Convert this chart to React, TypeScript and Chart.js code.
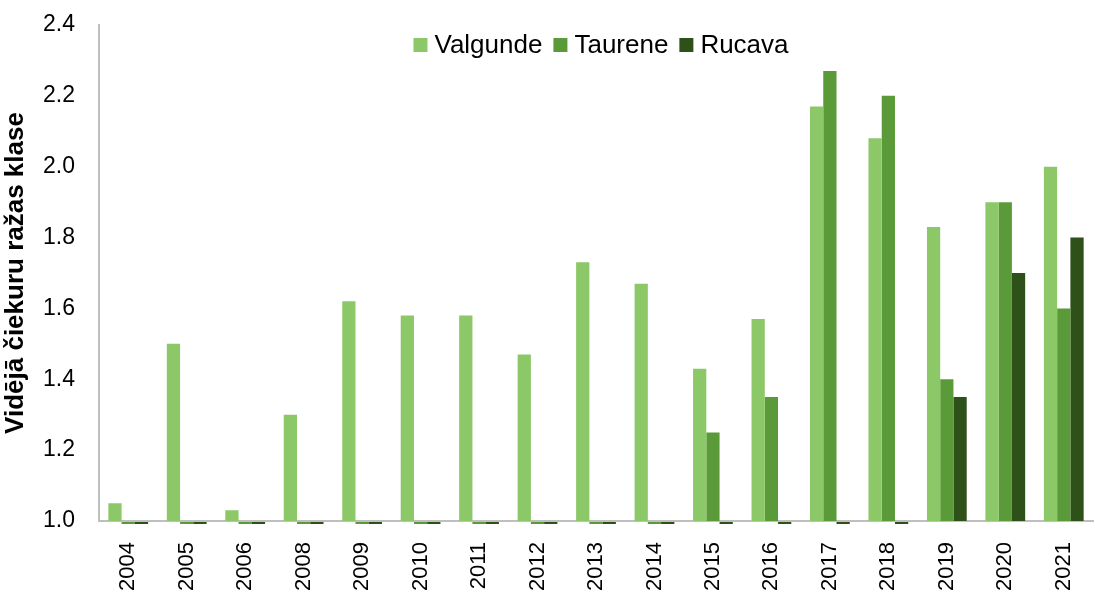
import React, { useEffect, useRef } from "react";
import { Chart, registerables } from "chart.js";

Chart.register(...registerables);

const years = ["2004", "2005", "2006", "2008", "2009", "2010", "2011", "2012", "2013", "2014", "2015", "2016", "2017", "2018", "2019", "2020", "2021"];
const valgunde = [1.05, 1.5, 1.03, 1.3, 1.62, 1.58, 1.58, 1.47, 1.73, 1.67, 1.43, 1.57, 2.17, 2.08, 1.83, 1.9, 2.0];
const taurene = [0, 0, 0, 0, 0, 0, 0, 0, 0, 0, 1.25, 1.35, 2.27, 2.2, 1.4, 1.9, 1.6];
const rucava = [0, 0, 0, 0, 0, 0, 0, 0, 0, 0, 0, 0, 0, 0, 1.35, 1.7, 1.8];
const seriesNames = ["Valgunde", "Taurene", "Rucava"];
const seriesColors = ["#8CC868", "#5B9A38", "#2D5119"];

const FONT = "'Liberation Sans', Arial, sans-serif";

const legendPlugin = {
  id: "customLegend",
  afterDraw(chart: any) {
    const ctx = chart.ctx;
    ctx.save();
    ctx.font = `26px ${FONT}`;
    ctx.textBaseline = "middle";
    const box = 14;
    const gapBoxText = 7;
    const gapItem = 11;
    const widths = seriesNames.map((n) => box + gapBoxText + ctx.measureText(n).width);
    const total = widths.reduce((a, b) => a + b, 0) + gapItem * (seriesNames.length - 1);
    let x = 601 - total / 2;
    const cy = 45;
    seriesNames.forEach((n, i) => {
      ctx.fillStyle = seriesColors[i];
      ctx.fillRect(x, cy - box / 2, box, box);
      ctx.fillStyle = "#000";
      ctx.fillText(n, x + box + gapBoxText, cy + 1);
      x += widths[i] + gapItem;
    });
    ctx.restore();
  },
};

// values below the axis minimum (no data) are shown as a thin stub just under the axis
const belowMinPlugin = {
  id: "belowMin",
  afterDatasetsDraw(chart: any) {
    const ctx = chart.ctx;
    const yScale = chart.scales.y;
    const bottom = chart.chartArea.bottom;
    ctx.save();
    chart.data.datasets.forEach((ds: any, i: number) => {
      const meta = chart.getDatasetMeta(i);
      meta.data.forEach((el: any, j: number) => {
        const v = ds.data[j];
        if (v < yScale.min) {
          const props = el.getProps(["x", "width"], true);
          ctx.fillStyle = ds.backgroundColor;
          ctx.fillRect(props.x - props.width / 2, bottom + 1, props.width, 2);
        }
      });
    });
    ctx.restore();
  },
};

export default function App() {
  const ref = useRef<HTMLCanvasElement>(null);
  useEffect(() => {
    document.body.style.margin = "0";
    const data = [valgunde, taurene, rucava];
    const chart = new Chart(ref.current!, {
      type: "bar",
      data: {
        labels: years,
        datasets: seriesNames.map((name, i) => ({
          label: name,
          data: data[i],
          backgroundColor: seriesColors[i],
          borderWidth: 0,
          categoryPercentage: 0.68,
          barPercentage: 1.0,
        })),
      },
      options: {
        animation: false,
        responsive: false,
        maintainAspectRatio: false,
        layout: { padding: { top: 25, right: 2, left: 0, bottom: 0 } },
        plugins: { legend: { display: false }, tooltip: { enabled: false } },
        scales: {
          x: {
            grid: { display: false, drawTicks: false },
            border: { display: true, color: "#BFBFBF", width: 2 },
            ticks: {
              color: "#000",
              font: { family: FONT, size: 22 },
              maxRotation: 90,
              minRotation: 90,
              padding: 21,
              autoSkip: false,
            },
            afterFit: (s: any) => {
              s.height = 75;
              s.paddingLeft = 0;
              s.paddingRight = 0;
            },
          },
          y: {
            min: 1.0,
            max: 2.4,
            grid: { display: false, drawTicks: false },
            border: { display: true, color: "#BFBFBF", width: 2 },
            ticks: {
              stepSize: 0.2,
              color: "#000",
              font: { family: FONT, size: 23 },
              padding: 24,
              callback: (v: any) => Number(v).toFixed(1),
            },
            title: {
              display: true,
              text: "Vidējā čiekuru ražas klase",
              color: "#000",
              font: { family: FONT, size: 26, weight: "bold" },
              padding: { top: 0, bottom: 0 },
            },
            afterFit: (s: any) => {
              s.width = 99;
              s.paddingTop = 0;
              s.paddingBottom = 0;
            },
          },
        },
      },
      plugins: [legendPlugin, belowMinPlugin],
    });
    return () => chart.destroy();
  }, []);
  return <canvas ref={ref} width={1095} height={596} style={{ display: "block" }} />;
}
